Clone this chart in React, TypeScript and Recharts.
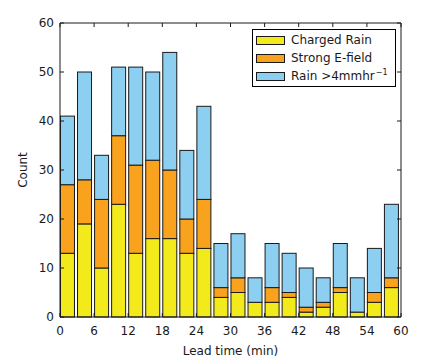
import { BarChart, Bar, XAxis, YAxis, Legend } from "recharts";

const leadStart = [0, 3, 6, 9, 12, 15, 18, 21, 24, 27, 30, 33, 36, 39, 42, 45, 48, 51, 54, 57];
const chargedRain = [13, 19, 10, 23, 13, 16, 16, 13, 14, 4, 5, 3, 3, 4, 1, 2, 5, 1, 3, 6];
const strongEField = [27, 28, 24, 37, 31, 32, 30, 20, 24, 6, 8, 3, 6, 5, 2, 3, 6, 1, 5, 8];
const heavyRain = [41, 50, 33, 51, 51, 50, 54, 34, 43, 15, 17, 8, 15, 13, 10, 8, 15, 8, 14, 23];

const xTicks = [0, 6, 12, 18, 24, 30, 36, 42, 48, 54, 60];
const yTicks = [0, 10, 20, 30, 40, 50, 60];

const YELLOW = "#f2ea1b";
const ORANGE = "#f9a21d";
const BLUE = "#8ccff1";
const EDGE = "#1a1a1a";
const FONT = "'DejaVu Sans', sans-serif";

// overlapping bars in the original, so stack the increments
const data = leadStart.map((t, i) => ({
  t,
  charged: chargedRain[i],
  efield: strongEField[i] - chargedRain[i],
  rain: heavyRain[i] - strongEField[i],
}));

const legendRows = [
  { label: "Charged Rain", sup: "", color: YELLOW },
  { label: "Strong E-field", sup: "", color: ORANGE },
  { label: "Rain >4mmhr", sup: "\u22121", color: BLUE },
];

// bars sit to the right of their bin start, not centred on it
function BinBar(props: any) {
  const { x, y, width, height, fill } = props;
  if (width == null || height == null) return null;
  return (
    <rect
      x={x + width / 2}
      y={y}
      width={width}
      height={Math.max(height, 0)}
      fill={fill}
      stroke={EDGE}
      strokeWidth={1}
    />
  );
}

// frame axes: keep the tick marks, drop the labels
const noLabel = () => <g />;

function KeyBox() {
  return (
    <div
      style={{
        border: "1px solid #000",
        background: "#fff",
        padding: "1px 0",
        fontFamily: FONT,
        fontSize: 12,
        color: "#1a1a1a",
        boxSizing: "border-box",
        width: 144,
      }}
    >
      {legendRows.map((r) => (
        <div key={r.label} style={{ display: "flex", alignItems: "center", height: 18 }}>
          <span
            style={{
              display: "inline-block",
              width: 27,
              height: 7,
              marginLeft: 3,
              marginRight: 6,
              background: r.color,
              border: `1px solid ${EDGE}`,
            }}
          />
          <span style={{ whiteSpace: "nowrap" }}>
            {r.label}
            {r.sup && (
              <sup style={{ fontSize: 8, verticalAlign: "top", lineHeight: "8px", marginLeft: 1 }}>{r.sup}</sup>
            )}
          </span>
        </div>
      ))}
    </div>
  );
}

const tickStyle = { fontFamily: FONT, fontSize: 12, fill: "#1a1a1a" };

export default function App() {
  return (
    <div style={{ position: "fixed", left: 0, top: 0, width: 430, height: 362, background: "#fff" }}>
      <BarChart
        width={430}
        height={362}
        data={data}
        margin={{ top: 22, right: 28, bottom: 0, left: 0 }}
      >
        <XAxis
          dataKey="t"
          type="number"
          domain={[0, 60]}
          ticks={xTicks}
          allowDataOverflow
          height={45}
          tickSize={-4}
          tickMargin={13}
          tick={tickStyle}
          axisLine={{ stroke: EDGE }}
          tickLine={{ stroke: EDGE }}
          label={{ value: "Lead time (min)", position: "center", dy: 11, style: { fontFamily: FONT, fontSize: 12, fill: "#1a1a1a" } }}
        />
        <XAxis
          xAxisId="top"
          dataKey="t"
          orientation="top"
          type="number"
          domain={[0, 60]}
          ticks={xTicks}
          allowDataOverflow
          height={1}
          tickSize={-4}
          tick={noLabel}
          axisLine={{ stroke: EDGE }}
          tickLine={{ stroke: EDGE }}
        />
        <YAxis
          type="number"
          domain={[0, 60]}
          ticks={yTicks}
          width={60}
          tickSize={-4}
          tickMargin={10}
          tick={tickStyle}
          axisLine={{ stroke: EDGE }}
          tickLine={{ stroke: EDGE }}
          label={{ value: "Count", angle: -90, position: "center", dx: -7, style: { fontFamily: FONT, fontSize: 12, fill: "#1a1a1a" } }}
        />
        <YAxis
          yAxisId="right"
          orientation="right"
          type="number"
          domain={[0, 60]}
          ticks={yTicks}
          allowDataOverflow
          width={1}
          tickSize={-4}
          tick={noLabel}
          axisLine={{ stroke: EDGE }}
          tickLine={{ stroke: EDGE }}
        />
        <Legend
          layout="vertical"
          align="center"
          verticalAlign="middle"
          content={() => <KeyBox />}
          wrapperStyle={{ top: 29, left: 252, width: 144, height: 58 }}
        />
        <Bar dataKey="charged" stackId="s" barSize={14} fill={YELLOW} shape={BinBar} isAnimationActive={false} />
        <Bar dataKey="efield" stackId="s" barSize={14} fill={ORANGE} shape={BinBar} isAnimationActive={false} />
        <Bar dataKey="rain" stackId="s" barSize={14} fill={BLUE} shape={BinBar} isAnimationActive={false} />
      </BarChart>
    </div>
  );
}
